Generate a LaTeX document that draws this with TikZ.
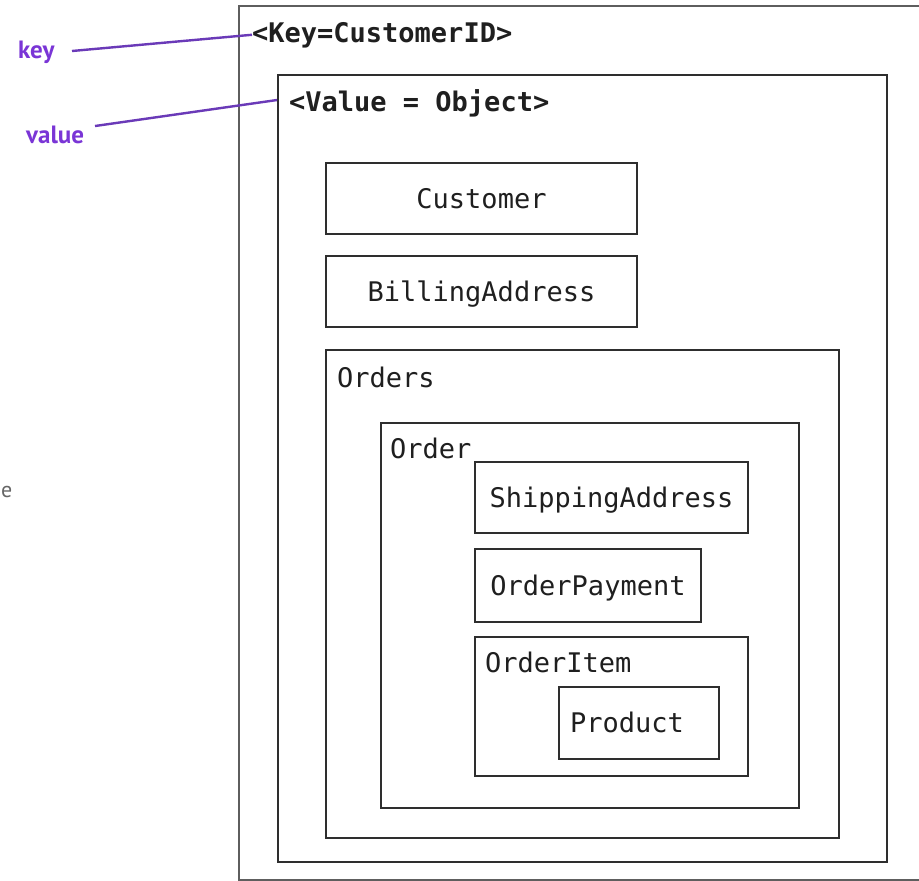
\documentclass[tikz,border=0pt]{standalone}
\usepackage{fontspec}
\newfontfamily\mono{DejaVu Sans Mono}
\newfontfamily\hand{PT Sans}
\definecolor{boxgray}{HTML}{2E2E2E}
\definecolor{outergray}{HTML}{5E5E5E}
\definecolor{purptxt}{HTML}{7A35D6}
\definecolor{purpline}{HTML}{6A3AB8}
\begin{document}
\begin{tikzpicture}[x=1pt,y=-1pt,
  monofont/.style={font=\mono\fontsize{27}{30}\selectfont, text=black!88},
  box/.style={draw=boxgray, line width=2pt, inner sep=0pt, anchor=north west,
    monofont, text height=20pt, text depth=0pt},
  outerbox/.style={draw=outergray, line width=2pt, inner sep=0pt, anchor=north west},
  lbl/.style={monofont, inner sep=0pt, anchor=base west},
  boldlbl/.style={lbl, font=\mono\bfseries\fontsize{27}{30}\selectfont},
  note/.style={font=\hand\bfseries\fontsize{25}{28}\selectfont, text=purptxt, inner sep=0pt, anchor=base west},
  pointer/.style={draw=purpline, line width=2.4pt}]
\useasboundingbox (0,0) rectangle (919,881);
\fill[white] (0,0) rectangle (919,881);

% outer (key) box and value box
\node[outerbox, minimum width=687pt, minimum height=874pt] (outer) at (238,5) {};
\node[box, minimum width=609pt, minimum height=787pt] (valuebox) at (277,74) {};

% simple boxes
\node[box, minimum width=311pt, minimum height=71pt] (customer) at (325,162) {Customer};
\node[box, minimum width=311pt, minimum height=71pt] (billing) at (325,255) {BillingAddress};

% containers
\node[box, minimum width=513pt, minimum height=488pt] (orders) at (325,349) {};
\node[box, minimum width=418pt, minimum height=385pt] (order) at (380,422) {};
\node[box, minimum width=273pt, minimum height=71pt] (shipping) at (474,461) {ShippingAddress};
\node[box, minimum width=226pt, minimum height=73pt] (payment) at (474,548) {OrderPayment};
\node[box, minimum width=273pt, minimum height=139pt] (orderitem) at (474,636) {};
\node[box, minimum width=160pt, minimum height=72pt] (product) at (558,686) {};

% labels
\node[boldlbl] (keytxt) at (252,42) {<Key=CustomerID>};
\node[boldlbl] (valtxt) at (289,111) {<Value = Object>};
\node[lbl] (orderslbl) at (337,387) {Orders};
\node[lbl] (orderlbl) at (390,458) {Order};
\node[lbl] (orderitemlbl) at (485,672) {OrderItem};
\node[lbl] (productlbl) at (570,732) {Product};

% annotations
\node[note] (keynote) at (18,58) {key};
\node[note] (valnote) at (26,143) {value};
\coordinate (keystart) at (72,51);
\coordinate (valstart) at (95,126);
\draw[pointer] (keystart) -- (keytxt.west);
\draw[pointer] (valstart) -- (valuebox.north west |- 0,100);

% small fragment at left edge
\node[font=\hand\fontsize{22}{24}\selectfont, text=black!60, inner sep=0pt, anchor=base west] (frag) at (1,497) {e};
\end{tikzpicture}
\end{document}
